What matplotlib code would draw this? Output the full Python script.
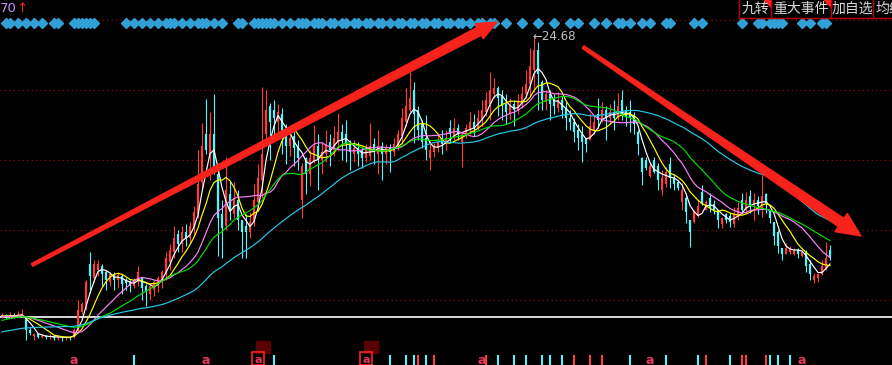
import numpy as np
import pandas as pd
import matplotlib
matplotlib.use("Agg")
import matplotlib.pyplot as plt
from matplotlib.patches import Polygon, Rectangle
from matplotlib.lines import Line2D

plt.rcParams["font.family"] = ["Noto Sans CJK SC", "DejaVu Sans"]

W, H = 892, 365

# closes before the first visible bar (only feed the moving averages)
prior_closes = [9.0, 9.1, 9.0, 9.2, 9.3, 9.2, 9.1, 9.3, 9.4, 9.3,
                9.2, 9.4, 9.5, 9.4, 9.3, 9.5, 9.6, 9.4, 9.3, 9.5,
                9.6, 9.7, 9.5, 9.4, 9.6, 9.8, 9.9, 10.1, 10.3, 10.4,
                10.5, 10.6, 10.7, 10.6, 10.5, 10.7, 10.8, 10.6, 10.7, 10.6,
                10.7, 10.8, 10.7, 10.6, 10.7]

opens = [10.7, 10.75, 10.65, 10.75, 10.7, 10.7, 10.6, 10.0, 9.7, 9.8,
         9.65, 9.7, 9.65, 9.7, 9.6, 9.65, 9.6, 9.62, 9.65, 9.95,
         10.9, 11.2, 13.3, 12.6, 13.0, 13.2, 12.9, 12.4, 12.8, 12.5,
         12.7, 12.5, 12.4, 12.2, 12.4, 12.6, 12.2, 11.8, 12.0, 12.2,
         12.5, 12.8, 13.4, 13.9, 14.8, 14.3, 14.9, 14.6, 15.1, 15.8,
         17.4, 19.8, 18.6, 19.8, 17.8, 15.8, 15.2, 16.8, 15.8, 16.5,
         15.5, 15.2, 14.9, 15.4, 16.4, 17.5, 19.8, 21.2, 21.0, 20.4,
         20.8, 20.0, 19.2, 19.7, 19.2, 16.5, 18.6, 17.8, 18.4, 19.2,
         18.5, 18.8, 19.4, 19.0, 19.4, 19.9, 19.8, 19.3, 18.8, 19.1,
         19.0, 18.6, 18.7, 19.3, 18.8, 19.2, 18.8, 19.1, 18.9, 19.2,
         19.7, 20.4, 21.0, 22.0, 21.0, 20.3, 19.6, 18.6, 18.9, 19.1,
         19.6, 19.3, 20.1, 19.7, 20.1, 19.4, 19.8, 20.0, 20.4, 20.1,
         20.5, 20.9, 21.3, 21.8, 22.1, 21.7, 21.3, 20.8, 21.3, 21.0,
         21.3, 21.8, 22.3, 23.0, 24.0, 22.4, 21.4, 21.8, 21.5, 21.1,
         21.5, 21.1, 20.6, 20.4, 20.0, 19.8, 19.6, 19.5, 20.0, 20.8,
         20.5, 21.0, 20.6, 20.9, 20.6, 21.5, 21.0, 20.9, 20.7, 19.9,
         18.6, 18.5, 17.7, 18.5, 18.2, 17.0, 17.3, 18.3, 17.6, 17.4,
         16.4, 16.6, 15.5, 15.4, 15.7, 16.9, 16.0, 16.6, 16.3, 16.0,
         15.3, 15.8, 15.7, 15.3, 15.7, 16.5, 16.0, 16.7, 16.3, 16.5,
         16.1, 16.8, 16.0, 15.4, 14.9, 14.1, 13.8, 13.9, 13.8, 14.0,
         13.7, 13.9, 13.3, 12.5, 12.6, 12.8, 13.1, 14.0]

closes = [10.75, 10.65, 10.75, 10.7, 10.8, 10.8, 10.0, 9.85, 9.8, 9.65,
          9.7, 9.65, 9.7, 9.6, 9.65, 9.6, 9.65, 9.6, 10.0, 11.0,
          11.3, 12.4, 12.7, 13.3, 13.3, 12.8, 12.5, 12.8, 12.5, 12.75,
          12.3, 12.35, 12.2, 12.5, 12.9, 12.1, 11.9, 12.2, 12.4, 12.6,
          12.9, 13.6, 14.0, 14.6, 14.3, 14.9, 14.6, 15.2, 15.9, 17.3,
          19.2, 19.0, 19.8, 18.0, 15.6, 15.1, 17.0, 16.0, 16.6, 15.5,
          14.9, 14.9, 15.4, 16.5, 17.6, 18.8, 21.0, 20.4, 20.6, 20.9,
          19.8, 19.2, 19.6, 19.1, 18.6, 18.2, 17.8, 18.6, 19.2, 18.5,
          18.9, 19.3, 19.0, 19.6, 19.9, 19.5, 19.3, 18.9, 19.1, 18.8,
          18.6, 19.0, 19.2, 18.9, 19.2, 18.8, 19.1, 18.9, 19.3, 19.8,
          20.6, 21.2, 21.6, 20.8, 20.0, 19.4, 19.0, 19.0, 19.2, 19.4,
          19.3, 19.6, 19.8, 20.1, 19.8, 19.8, 20.1, 20.4, 20.1, 20.6,
          21.0, 21.5, 22.0, 22.1, 21.6, 21.2, 20.9, 21.2, 21.0, 21.4,
          21.8, 22.3, 23.2, 24.0, 22.8, 21.5, 21.8, 21.3, 21.2, 21.5,
          21.0, 20.6, 20.4, 19.9, 19.6, 19.4, 19.3, 20.2, 20.4, 20.5,
          21.0, 20.6, 20.9, 20.6, 21.2, 20.8, 20.7, 20.6, 20.3, 19.3,
          17.9, 18.1, 18.2, 17.9, 17.5, 17.6, 17.9, 17.6, 17.3, 17.1,
          17.0, 15.9, 14.9, 15.9, 16.2, 16.3, 16.4, 16.1, 16.0, 15.5,
          15.6, 15.5, 15.4, 15.8, 16.1, 16.0, 16.5, 16.2, 16.5, 16.2,
          16.7, 16.3, 15.6, 14.7, 14.2, 13.8, 14.1, 14.1, 14.0, 13.8,
          13.9, 13.2, 12.8, 12.7, 12.8, 13.2, 13.6, 13.6]

highs = [10.85, 10.8, 10.9, 10.85, 10.95, 11.05, 10.6, 10.15, 9.85, 9.85,
         9.8, 9.75, 9.8, 9.75, 9.75, 9.7, 9.7, 9.7, 10.1, 11.5,
         11.4, 12.5, 13.9, 13.5, 13.5, 13.3, 13.0, 12.9, 12.9, 12.9,
         12.8, 12.6, 12.5, 12.6, 13.2, 12.6, 12.3, 12.3, 12.5, 12.7,
         13.0, 13.9, 14.3, 15.2, 15.0, 15.2, 15.3, 15.4, 16.2, 19.0,
         20.35, 21.55, 20.9, 21.8, 18.3, 16.5, 18.65, 17.4, 17.4, 17.0,
         15.5, 15.8, 15.9, 17.3, 18.3, 22.15, 22.0, 21.35, 21.5, 21.3,
         21.1, 20.3, 20.0, 20.1, 19.5, 18.35, 18.65, 19.0, 20.25, 19.8,
         19.4, 20.0, 19.8, 20.2, 20.85, 20.3, 20.5, 19.5, 19.5, 19.4,
         19.2, 19.3, 20.35, 19.6, 20.0, 19.4, 19.3, 19.3, 19.6, 20.0,
         21.1, 22.1, 22.9, 22.4, 21.2, 20.5, 20.75, 19.5, 19.35, 19.8,
         20.0, 20.0, 20.5, 20.6, 20.3, 19.9, 20.3, 20.9, 20.8, 21.0,
         21.5, 21.9, 22.9, 22.6, 22.2, 22.0, 21.8, 21.6, 21.5, 21.8,
         22.2, 23.0, 24.1, 24.68, 24.4, 22.5, 22.0, 22.0, 21.8, 21.9,
         21.7, 21.4, 21.0, 20.6, 20.3, 20.2, 19.6, 20.85, 20.7, 21.6,
         21.4, 21.2, 21.3, 21.5, 21.85, 22.0, 21.2, 21.5, 20.9, 20.0,
         18.65, 18.65, 18.35, 18.65, 18.35, 18.0, 18.15, 18.65, 17.8, 17.5,
         17.35, 16.85, 15.5, 16.0, 16.5, 17.25, 16.5, 16.85, 16.5, 16.0,
         15.65, 15.85, 15.85, 16.15, 16.4, 16.85, 16.9, 17.0, 16.85, 16.7,
         17.75, 16.85, 16.0, 15.4, 15.0, 14.1, 14.35, 14.2, 14.1, 14.1,
         14.0, 14.0, 13.5, 12.85, 12.85, 13.5, 14.4, 14.25]

lows = [10.6, 10.55, 10.6, 10.6, 10.65, 10.65, 9.5, 9.75, 9.5, 9.6,
        9.6, 9.55, 9.55, 9.5, 9.5, 9.45, 9.5, 9.5, 9.6, 9.85,
        10.8, 11.0, 11.85, 12.4, 12.7, 12.2, 12.0, 12.2, 12.0, 12.1,
        11.8, 12.0, 11.9, 12.1, 12.2, 11.5, 11.2, 11.5, 11.7, 11.9,
        12.1, 12.5, 13.0, 13.6, 13.9, 13.9, 14.2, 14.3, 14.8, 15.6,
        17.0, 18.8, 17.5, 17.8, 13.7, 13.6, 15.0, 15.5, 15.6, 15.0,
        13.6, 13.6, 14.6, 15.2, 16.0, 16.6, 19.6, 18.5, 19.5, 19.8,
        18.8, 18.3, 18.7, 18.2, 18.0, 15.6, 16.8, 17.2, 18.35, 17.0,
        17.8, 18.4, 18.2, 18.7, 19.0, 18.5, 18.4, 18.0, 18.4, 18.2,
        18.1, 18.4, 18.5, 18.3, 17.8, 17.5, 18.3, 17.9, 18.7, 19.0,
        19.3, 20.2, 20.9, 19.35, 19.5, 19.1, 18.5, 18.0, 18.65, 18.9,
        18.8, 19.0, 19.4, 19.5, 19.5, 18.15, 19.6, 19.8, 19.7, 20.0,
        20.2, 20.7, 20.5, 21.6, 20.7, 20.5, 20.3, 20.5, 20.2, 20.8,
        21.1, 21.6, 21.7, 21.9, 21.0, 21.0, 21.0, 20.5, 20.8, 20.9,
        20.6, 20.0, 20.0, 19.4, 19.0, 18.4, 18.9, 19.5, 19.8, 20.1,
        20.4, 19.5, 20.3, 20.0, 20.5, 20.5, 20.2, 19.9, 19.8, 18.75,
        17.25, 18.0, 17.65, 17.85, 17.0, 16.75, 17.15, 17.1, 17.0, 17.0,
        16.0, 15.35, 14.15, 15.35, 15.65, 16.25, 16.0, 15.9, 15.8, 15.1,
        15.1, 15.35, 15.15, 15.15, 15.5, 15.85, 15.9, 15.85, 15.5, 15.8,
        15.65, 15.85, 15.35, 14.25, 13.85, 13.5, 13.8, 13.8, 13.75, 13.6,
        13.65, 12.9, 12.5, 12.35, 12.4, 12.75, 13.0, 13.5]

ma_windows = [4, 8, 15, 22, 45]
ma_colors = ["#ffffff", "#ffff00", "#ff80ff", "#00dd00", "#28c8e8"]

# bars carrying a signal diamond on the top row
signal_bars = [1, 2, 4, 6, 8, 10, 13, 14, 18, 19, 20, 21, 22, 23,
               31, 33, 35, 37, 39, 41, 42, 43, 45, 47, 49, 50, 51, 53, 55,
               59, 60, 63, 64, 65, 66, 67, 68, 70, 72, 74, 75, 76, 78, 79,
               80, 82, 83, 85, 86, 88, 89, 91, 92, 94, 95, 97, 99, 100, 102,
               103, 105, 106, 108, 109, 111, 112, 114, 115, 117, 119, 120,
               122, 123, 126, 130, 134, 138, 142, 144, 148, 151, 154, 155,
               157, 160, 162, 166, 167, 173, 175, 185, 189, 190, 192, 193,
               194, 195, 200, 202, 205, 206]

grid_prices = [25.5, 22.0, 18.5, 15.0, 11.5]
base_price = 10.65
peak_label = "24.68"

# marks along the bottom edge
vol_cyan = [33, 68, 97, 101, 103, 106, 124, 128, 131, 135, 137, 140,
            157, 166, 174, 182, 192, 194, 197]
vol_red = [104, 108, 121, 143, 147, 150, 176, 185, 186, 191]
icon_bars = [18, 51, 120, 162, 200]
boxed_bars = [64, 91]

buttons = ["九转", "重大事件", "加自选", "均线"]
button_edges = [739, 771, 831, 873, 892]

fig = plt.figure(figsize=(W / 100, H / 100), dpi=100, facecolor="black")
ax = fig.add_axes([0, 0, 1, 1])
ax.set_facecolor("black")
ax.set_xlim(-0.5, -0.5 + W / 4)
ax.set_ylim(8.25, 26.5)
ax.axis("off")

for g in grid_prices:
    ax.axhline(g, color="#a01010", lw=0.8, ls=(0, (1, 3)), zorder=1)
ax.axhline(base_price, color="white", lw=1.2, zorder=2)

o = np.array(opens)
c = np.array(closes)
hi = np.array(highs)
lo = np.array(lows)
idx = np.arange(len(c))
up = c >= o
cols = np.where(up, "#ff3c3c", "#54f4fc")

ax.vlines(idx, lo, hi, colors=cols, lw=0.8, zorder=3)
ax.vlines(idx, np.minimum(o, c), np.maximum(o, c), colors=cols, lw=1.6, zorder=3)

full = pd.Series(prior_closes + closes)
for w, col in zip(ma_windows, ma_colors):
    ma = full.rolling(w, min_periods=1).mean().iloc[len(prior_closes):]
    ax.plot(idx, ma.values, color=col, lw=0.85, zorder=4)

k = int(np.argmax(hi))
ax.text(k - 0.3, hi[k], "\u2190" + peak_label, color="#c0c0c0", fontsize=8.5,
        family="DejaVu Sans", ha="left", va="center", zorder=6)

ax.plot(signal_bars, [25.33] * len(signal_bars), ls="none", marker="D", ms=5.5,
        color="#30a0d6", zorder=5)

ax.vlines(vol_cyan, 8.25, 8.75, colors="#54f4fc", lw=1.5)
ax.vlines(vol_red, 8.25, 8.75, colors="#ff3c3c", lw=1.5)
for b in icon_bars:
    ax.text(b, 8.5, "a", color="#e8365d", fontsize=9, ha="center", va="center",
            family="DejaVu Sans", fontweight="bold")
for b in boxed_bars:
    ax.add_patch(Rectangle((b - 0.5, 8.85), 3.5, 0.6, color="#5a0000", zorder=2))
    ax.add_patch(Rectangle((b - 1.5, 8.25), 3, 0.65, fill=False, ec="#ff2020", lw=1.2, zorder=3))
    ax.text(b, 8.5, "a", color="#e8365d", fontsize=8, ha="center", va="center",
            family="DejaVu Sans", fontweight="bold", zorder=4)


def fp(x, y):
    return x / W, 1 - y / H


def tapered_arrow(x0, y0, x1, y1, w0, w1, head_w, head_len, color):
    ux, uy = x1 - x0, y1 - y0
    L = np.hypot(ux, uy)
    ux, uy = ux / L, uy / L
    nx, ny = -uy, ux
    bx, by = x1 - ux * head_len, y1 - uy * head_len
    pts = [(x0 + nx * w0 / 2, y0 + ny * w0 / 2),
           (bx + nx * w1 / 2, by + ny * w1 / 2),
           (bx + nx * head_w / 2, by + ny * head_w / 2),
           (x1, y1),
           (bx - nx * head_w / 2, by - ny * head_w / 2),
           (bx - nx * w1 / 2, by - ny * w1 / 2),
           (x0 - nx * w0 / 2, y0 - ny * w0 / 2)]
    fig.add_artist(Polygon([fp(px, py) for px, py in pts], closed=True,
                           transform=fig.transFigure, color=color, zorder=10))


tapered_arrow(32, 265, 497, 22, 3, 9, 17, 20, "#f5231b")
tapered_arrow(583, 47, 861, 236, 3, 10, 22, 24, "#f5231b")

# top-left indicator value
fig.text(*fp(0, 9), "70", color="#c88cff", fontsize=9.5, family="DejaVu Sans",
         ha="left", va="center")
fig.text(*fp(16, 9), "\u2191", color="#ff2020", fontsize=9.5, family="DejaVu Sans",
         ha="left", va="center")

# buttons at the top right (the last one runs off the edge, as on screen)
for e in button_edges[:-1]:
    fig.add_artist(Line2D([e / W, e / W], [1, 1 - 18 / H], color="#c00000", lw=1,
                          transform=fig.transFigure))
fig.add_artist(Line2D([739 / W, 1], [1 - 18 / H, 1 - 18 / H], color="#c00000", lw=1,
                      transform=fig.transFigure))
for i, name in enumerate(buttons):
    left, right = button_edges[i], button_edges[i + 1]
    if i < 3:
        fig.text(*fp((left + right) / 2, 9), name, color="#d8d8d8", fontsize=10,
                 ha="center", va="center")
    else:
        fig.text(*fp(left + 2, 9), name, color="#d8d8d8", fontsize=10,
                 ha="left", va="center")
for e in button_edges[1:3]:
    fig.add_artist(Polygon([fp(e - 7, 0), fp(e, 0), fp(e, 7)], closed=True,
                           transform=fig.transFigure, color="#ff2020"))

fig.savefig("out.png", dpi=100, facecolor="black")
